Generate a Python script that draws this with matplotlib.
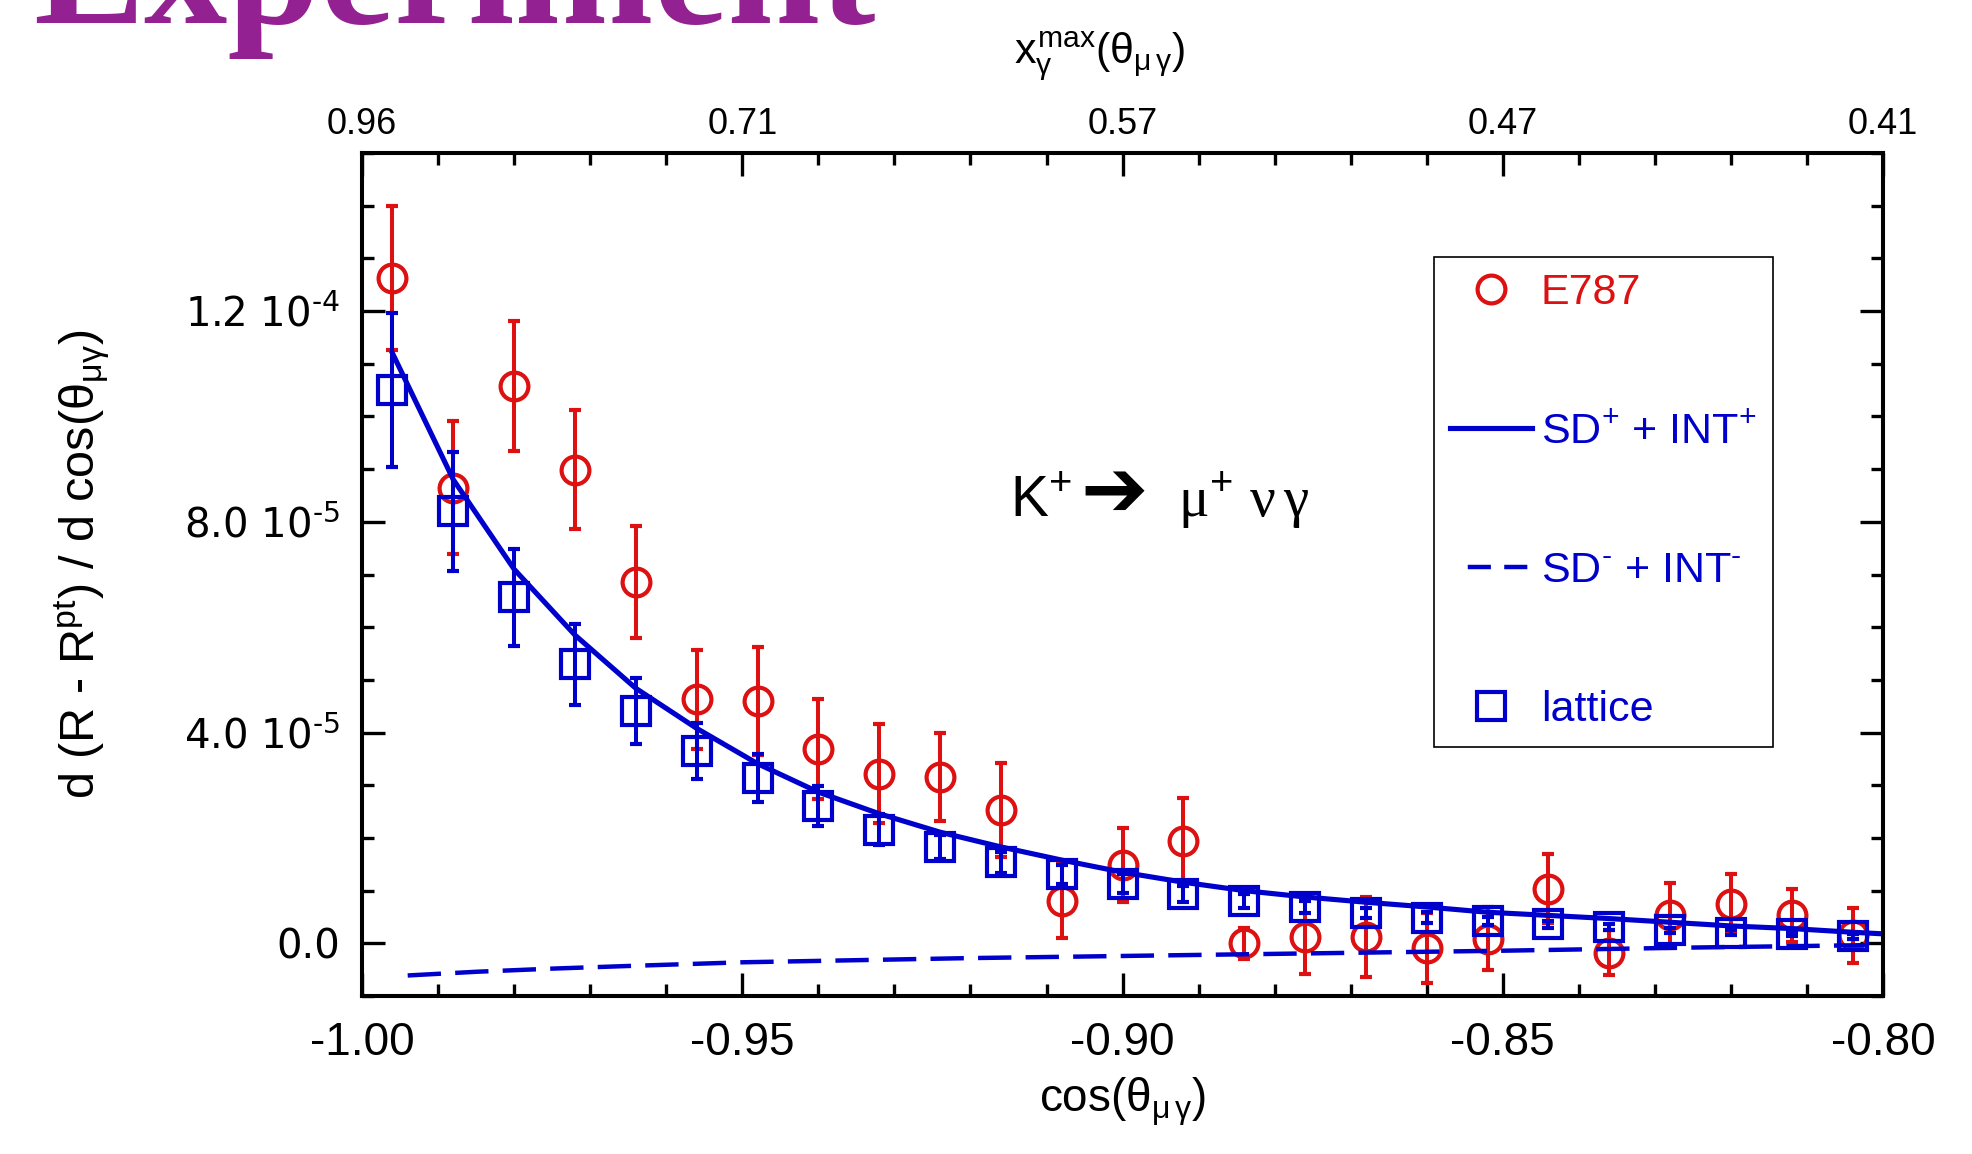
import numpy as np
import matplotlib
matplotlib.use('Agg')
import matplotlib.pyplot as plt
from matplotlib.ticker import MultipleLocator, FormatStrFormatter
from matplotlib.lines import Line2D

plt.rcParams['font.family'] = ['Liberation Sans', 'DejaVu Sans']
plt.rcParams['mathtext.fontset'] = 'custom'
plt.rcParams['mathtext.rm'] = 'Liberation Sans'
plt.rcParams['mathtext.it'] = 'Liberation Sans'
plt.rcParams['mathtext.bf'] = 'Liberation Sans:bold'
plt.rcParams['mathtext.sf'] = 'Liberation Serif'
plt.rcParams['axes.unicode_minus'] = False

# values in units of 1e-5
scale = 1e-5
cos_theta = [-0.996, -0.988, -0.980, -0.972, -0.964, -0.956, -0.948, -0.940,
             -0.932, -0.924, -0.916, -0.908, -0.900, -0.892, -0.884, -0.876,
             -0.868, -0.860, -0.852, -0.844, -0.836, -0.828, -0.820, -0.812,
             -0.804]
e787 = [12.63, 8.65, 10.58, 8.99, 6.86, 4.63, 4.60, 3.68, 3.22, 3.16, 2.53,
        0.80, 1.48, 1.94, 0.00, 0.12, 0.12, -0.09, 0.09, 1.04, -0.18, 0.53,
        0.75, 0.53, 0.15]
e787_err = [1.36, 1.26, 1.24, 1.13, 1.06, 0.94, 1.03, 0.95, 0.94, 0.83, 0.90,
            0.70, 0.70, 0.81, 0.30, 0.70, 0.75, 0.66, 0.60, 0.66, 0.43, 0.62,
            0.57, 0.51, 0.53]
lattice = [10.50, 8.20, 6.57, 5.30, 4.41, 3.65, 3.14, 2.60, 2.16, 1.83, 1.54,
           1.31, 1.13, 0.94, 0.80, 0.69, 0.58, 0.49, 0.42, 0.36, 0.31, 0.25,
           0.20, 0.17, 0.13]
lattice_err = [1.46, 1.13, 0.92, 0.77, 0.62, 0.53, 0.45, 0.38, 0.30, 0.22,
               0.20, 0.18, 0.18, 0.15, 0.13, 0.12, 0.10, 0.10, 0.08, 0.07,
               0.06, 0.05, 0.05, 0.04, 0.04]

curve_x = cos_theta + [-0.800]
sd_plus = [11.2, 8.8, 7.1, 5.85, 4.84, 4.08, 3.41, 2.87, 2.46, 2.11, 1.83,
           1.58, 1.35, 1.16, 1.00, 0.88, 0.78, 0.69, 0.59, 0.53, 0.47, 0.40,
           0.33, 0.28, 0.21, 0.18]
dash_x = [-0.994, -0.985, -0.975, -0.965, -0.950, -0.935, -0.920, -0.900,
          -0.875, -0.850, -0.825, -0.800]
sd_minus = [-0.61, -0.54, -0.48, -0.43, -0.36, -0.32, -0.28, -0.24, -0.19,
            -0.14, -0.08, -0.03]

top_ticks = [-1.00, -0.95, -0.90, -0.85, -0.80]
top_labels = ['0.96', '0.71', '0.57', '0.47', '0.41']
y_ticks = [0.0, 4e-5, 8e-5, 1.2e-4]
y_labels = ['0.0', r'4.0 10$^{\text{-}5}$', r'8.0 10$^{\text{-}5}$', r'1.2 10$^{\text{-}4}$']

red = '#DD1111'
blue = '#0000CC'

fig = plt.figure(figsize=(19.72, 11.54), dpi=100)
ax = fig.add_axes([0.1836, 0.1369, 0.7713, 0.7305])

ax.errorbar(cos_theta, np.array(e787) * scale, yerr=np.array(e787_err) * scale,
            fmt='o', ms=20, mfc='none', mec=red, mew=3.0, ecolor=red,
            elinewidth=2.9, capsize=4.3, capthick=2.9, zorder=2)
ax.errorbar(cos_theta, np.array(lattice) * scale, yerr=np.array(lattice_err) * scale,
            fmt='s', ms=19.5, mfc='none', mec=blue, mew=3.0, ecolor=blue,
            elinewidth=2.9, capsize=4.3, capthick=2.9, zorder=3)
ax.plot(curve_x, np.array(sd_plus) * scale, color=blue, lw=3.7, zorder=4)
ax.plot(dash_x, np.array(sd_minus) * scale, color=blue, lw=3.2,
        linestyle=(0, (7.5, 3.2)), zorder=4)

ax.set_xlim(-1.0, -0.8)
ax.set_ylim(-1e-5, 1.5e-4)
ax.xaxis.set_major_locator(MultipleLocator(0.05))
ax.xaxis.set_minor_locator(MultipleLocator(0.01))
ax.xaxis.set_major_formatter(FormatStrFormatter('%.2f'))
ax.set_yticks(y_ticks, y_labels)
ax.yaxis.set_minor_locator(MultipleLocator(1e-5))

for s in ax.spines.values():
    s.set_linewidth(2.9)
ax.tick_params(which='both', direction='in', right=True, top=False, width=2.4)
ax.tick_params(which='major', length=16.5)
ax.tick_params(which='minor', length=8.6)
ax.tick_params(axis='x', labelsize=33, pad=18)
ax.tick_params(axis='y', labelsize=29, pad=16)
for t in ax.get_yticklabels():
    t.set_fontfamily('DejaVu Sans')
    t.set_math_fontfamily('dejavusans')

ax2 = ax.twiny()
ax2.set_xlim(ax.get_xlim())
ax2.set_xticks(top_ticks, top_labels)
ax2.xaxis.set_minor_locator(MultipleLocator(0.01))
ax2.tick_params(which='both', direction='in', width=2.4, labelsize=26, pad=8)
ax2.tick_params(which='major', length=16.5)
ax2.tick_params(which='minor', length=8.6)
for s in ax2.spines.values():
    s.set_linewidth(2.9)

ax.set_xlabel(r'cos($\theta_{\mu\,\gamma}$)', fontsize=33, va='top')
ax.xaxis.set_label_coords(0.5, -0.094)
ax.set_ylabel(r'd (R - R$^{pt}$) / d cos($\theta_{\mu\gamma}$)', fontsize=35, va='center')
ax.yaxis.set_label_coords(-0.184, 0.512)
ax2.set_xlabel(r'$x_{\gamma}^{max}(\theta_{\mu\,\gamma})$', fontsize=31, va='bottom')
ax2.xaxis.set_label_coords(0.485, 1.083)

# reaction label: K+ -> mu+ nu gamma
ax.text(0.426, 0.569, r'K$^{+}$', transform=ax.transAxes, fontsize=41,
        va='baseline', ha='left')
ax.text(0.4725, 0.5955, '\u2794', transform=ax.transAxes, fontsize=58,
        family='DejaVu Sans', va='center', ha='left')
ax.text(0.5367, 0.569, r'$\mathsf{\mu}^{+}$ $\mathsf{\nu}\,\mathsf{\gamma}$',
        transform=ax.transAxes, fontsize=41, va='baseline', ha='left')

handles = [
    Line2D([], [], ls='none', marker='o', ms=20, mfc='none', mec=red, mew=3.0),
    Line2D([], [], color=blue, lw=3.7),
    Line2D([], [], color=blue, lw=3.2, linestyle=(0, (0, 4.0, 5.2, 3.0, 5.2, 10))),
    Line2D([], [], ls='none', marker='s', ms=19.5, mfc='none', mec=blue, mew=3.0),
]
labels = ['E787', r'SD$^{+}$ + INT$^{+}$', r'SD$^{\text{-}}$ + INT$^{\text{-}}$', 'lattice']
leg = ax2.legend(handles, labels, loc='upper left', bbox_to_anchor=(0.7048, 0.8766),
                 bbox_transform=ax.transAxes, borderaxespad=0, fontsize=31,
                 frameon=True, fancybox=False, framealpha=1, edgecolor='black',
                 labelspacing=2.3, handlelength=1.9, handletextpad=0.2,
                 borderpad=0.38)
leg.get_frame().set_linewidth(1.2)
for txt, c in zip(leg.get_texts(), [red, blue, blue, blue]):
    txt.set_color(c)

fig.text(0.0166, 0.980, 'Experiment', fontsize=120, fontweight='bold',
         family='Liberation Serif', color='#942192', va='baseline', ha='left')

fig.savefig('out.png', dpi=100)
